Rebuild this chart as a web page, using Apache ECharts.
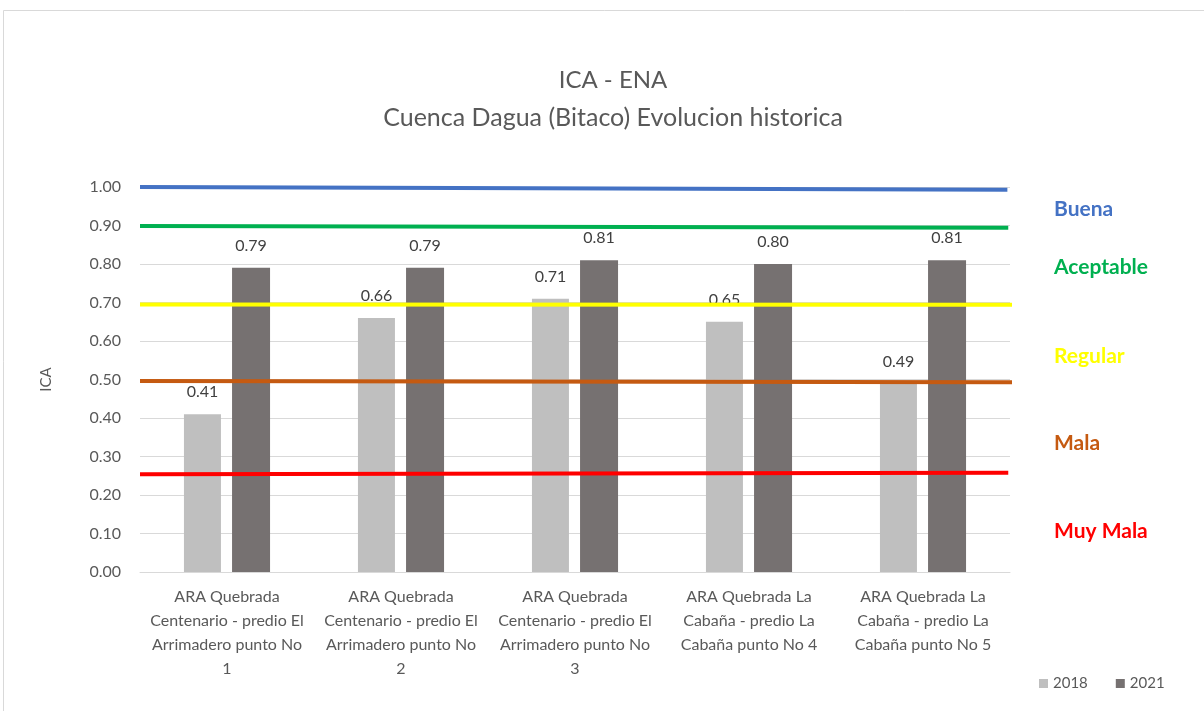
<!DOCTYPE html>
<html>
<head>
<meta charset="utf-8">
<script src="https://cdn.jsdelivr.net/npm/echarts@6/dist/echarts.min.js"></script>
<style>
html,body{margin:0;padding:0;background:#fff;}
#c{width:1204px;height:711px;}
</style>
</head>
<body>
<div id="c"></div>
<script>
const categories = [
  "ARA Quebrada\nCentenario - predio El\nArrimadero punto No\n1",
  "ARA Quebrada\nCentenario - predio El\nArrimadero punto No\n2",
  "ARA Quebrada\nCentenario - predio El\nArrimadero punto No\n3",
  "ARA Quebrada La\nCabaña - predio La\nCabaña punto No 4",
  "ARA Quebrada La\nCabaña - predio La\nCabaña punto No 5"
];
const values2018 = [0.41, 0.66, 0.71, 0.65, 0.49];
const values2021 = [0.79, 0.79, 0.81, 0.80, 0.81];
const yTicks = [0, 0.1, 0.2, 0.3, 0.4, 0.5, 0.6, 0.7, 0.8, 0.9, 1.0];
// Quality thresholds (reference lines): name, start value, end value
const thresholdNames = ["Buena", "Aceptable", "Regular", "Mala", "Muy Mala"];
const thresholdStart = [1.000, 0.899, 0.695, 0.496, 0.254];
const thresholdEnd   = [0.993, 0.894, 0.694, 0.493, 0.258];
const thresholdColors = ["#4472C4", "#00B050", "#FFFF00", "#C55A11", "#FF0000"];
const thresholdXEnd = [0.997, 0.998, 1.004, 1.003, 0.998];

const chart = echarts.init(document.getElementById('c'));
const FONT = 'Lato, "Open Sans", sans-serif';

const lineSeries = thresholdNames.map((n, i) => ({
  name: n,
  type: 'line',
  xAxisIndex: 1,
  yAxisIndex: 0,
  data: [[0, thresholdStart[i]], [thresholdXEnd[i], thresholdEnd[i]]],
  symbol: 'none',
  lineStyle: { color: thresholdColors[i], width: 4 },
  z: 5,
  silent: true
}));

const labelY = [209, 267, 356, 443, 531];

chart.setOption({
  animation: false,
  backgroundColor: '#fff',
  textStyle: { fontFamily: FONT },
  grid: { left: 140, right: 194, top: 187, bottom: 139 },
  legend: {
    data: ['2018', '2021'],
    left: 1034, top: 671,
    icon: 'rect', itemWidth: 9, itemHeight: 9, itemGap: 28,
    textStyle: { color: '#595959', fontSize: 15, fontFamily: FONT }
  },
  xAxis: [{
    type: 'category',
    data: categories,
    axisLine: { lineStyle: { color: '#d9d9d9', width: 1 } },
    axisTick: { show: false },
    axisLabel: { color: '#595959', fontSize: 16, lineHeight: 24, margin: 13, interval: 0, fontFamily: FONT }
  }, {
    type: 'value', min: 0, max: 1, show: false
  }],
  yAxis: {
    type: 'value', min: 0, max: 1, interval: 0.1,
    name: 'ICA', nameLocation: 'middle', nameGap: 86, nameRotate: 90,
    nameTextStyle: { color: '#595959', fontSize: 15, fontFamily: FONT },
    axisLine: { show: false }, axisTick: { show: false },
    splitLine: { lineStyle: { color: '#d9d9d9', width: 1 } },
    axisLabel: { color: '#595959', fontSize: 16, margin: 19, fontFamily: FONT,
      formatter: v => v.toFixed(2) }
  },
  series: [{
    name: '2018', type: 'bar', data: values2018,
    barWidth: 37, barGap: '30%',
    itemStyle: { color: '#BFBFBF' },
    label: { show: true, position: 'top', distance: 14, color: '#404040', fontSize: 16, fontFamily: FONT,
      formatter: p => p.value.toFixed(2) }
  }, {
    name: '2021', type: 'bar', data: values2021,
    barWidth: 38, barGap: '30%',
    itemStyle: { color: '#767171' },
    label: { show: true, position: 'top', distance: 14, color: '#404040', fontSize: 16, fontFamily: FONT,
      formatter: p => p.value.toFixed(2) }
  }].concat(lineSeries),
  graphic: [
    { type: 'rect', shape: { x: 3.5, y: 10.5, width: 1400, height: 900 }, style: { fill: 'none', stroke: '#d9d9d9', lineWidth: 1 }, silent: true, z: -10 },
    { type: 'text', style: { text: 'ICA - ENA', x: 613, y: 80, textAlign: 'center', textVerticalAlign: 'middle', fill: '#595959', font: '24px ' + FONT } },
    { type: 'text', style: { text: 'Cuenca Dagua (Bitaco) Evolucion historica', x: 613, y: 118, textAlign: 'center', textVerticalAlign: 'middle', fill: '#595959', font: '25px ' + FONT } }
  ].concat(thresholdNames.map((n, i) => ({
    type: 'text',
    style: { text: n, x: 1054, y: labelY[i], textVerticalAlign: 'middle', fill: thresholdColors[i], font: 'bold 21px ' + FONT }
  })))
});
</script>
</body>
</html>
